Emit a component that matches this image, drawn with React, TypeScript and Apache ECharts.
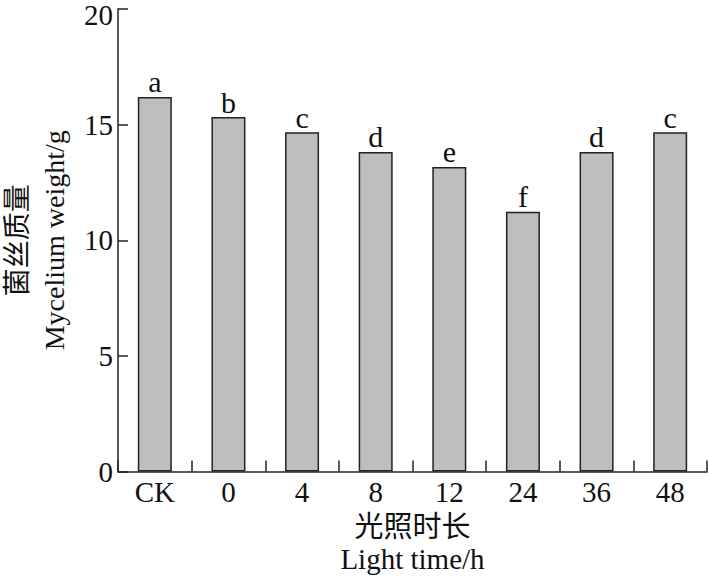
import React, { useEffect, useRef } from "react";
import * as echarts from "echarts";

const categories = ["CK", "0", "4", "8", "12", "24", "36", "48"];
const weights = [16.2, 15.33, 14.67, 13.82, 13.17, 11.23, 13.82, 14.67];
const letters = ["a", "b", "c", "d", "e", "f", "d", "c"];
const yTicks = [0, 5, 10, 15, 20];

const SERIF = "'Liberation Serif', 'Times New Roman', 'Noto Sans CJK SC', serif";

export default function App() {
  const ref = useRef<HTMLDivElement>(null);
  useEffect(() => {
    if (!ref.current) return;
    const chart = echarts.init(ref.current, undefined, { renderer: "svg" });
    const yMax = yTicks[yTicks.length - 1];
    chart.setOption({
      animation: false,
      backgroundColor: "#ffffff",
      grid: { left: 118, right: 2, top: 9, bottom: 112.5, containLabel: false, outerBoundsMode: "none" },
      xAxis: {
        type: "category",
        data: categories,
        name: "光照时长\nLight time/h",
        nameLocation: "middle",
        nameGap: 38,
        nameTextStyle: { fontFamily: SERIF, fontSize: 29, color: "#111", lineHeight: 32 },
        axisLine: { lineStyle: { color: "#222", width: 1.5 } },
        axisTick: { show: true, inside: true, length: 11, alignWithLabel: false, lineStyle: { color: "#222", width: 1.5 } },
        axisLabel: { fontFamily: SERIF, fontSize: 29, color: "#111", margin: 6 },
      },
      yAxis: {
        type: "value",
        min: yTicks[0],
        max: yMax,
        interval: 5,
        name: "菌丝质量\nMycelium weight/g",
        nameLocation: "middle",
        nameRotate: 90,
        nameGap: 41,
        nameTextStyle: { fontFamily: SERIF, fontSize: 28, color: "#111", lineHeight: 37 },
        axisLine: { show: true, lineStyle: { color: "#222", width: 1.5 } },
        axisTick: { show: true, inside: true, length: 10, lineStyle: { color: "#222", width: 1.5 } },
        axisLabel: {
          fontFamily: SERIF,
          fontSize: 29,
          color: "#111",
          margin: 5,
          lineHeight: 22,
          formatter: (v: number) => (v === yMax ? "{t|" + v + "}" : String(v)),
          rich: {
            t: { fontFamily: SERIF, fontSize: 29, color: "#111", lineHeight: 22, padding: [12, 0, 0, 0] },
          },
        },
        splitLine: { show: false },
      },
      series: [
        {
          type: "bar",
          data: weights,
          barWidth: 34,
          itemStyle: { color: "#bebebe", borderColor: "#222", borderWidth: 1.5 },
          label: {
            show: true,
            position: "top",
            distance: 0,
            formatter: (p: any) => letters[p.dataIndex],
            fontFamily: SERIF,
            fontSize: 30,
            color: "#111",
          },
        },
      ],
    });
    return () => chart.dispose();
  }, []);
  return <div ref={ref} style={{ width: 709, height: 584, position: "absolute", left: 0, top: 0 }} />;
}
